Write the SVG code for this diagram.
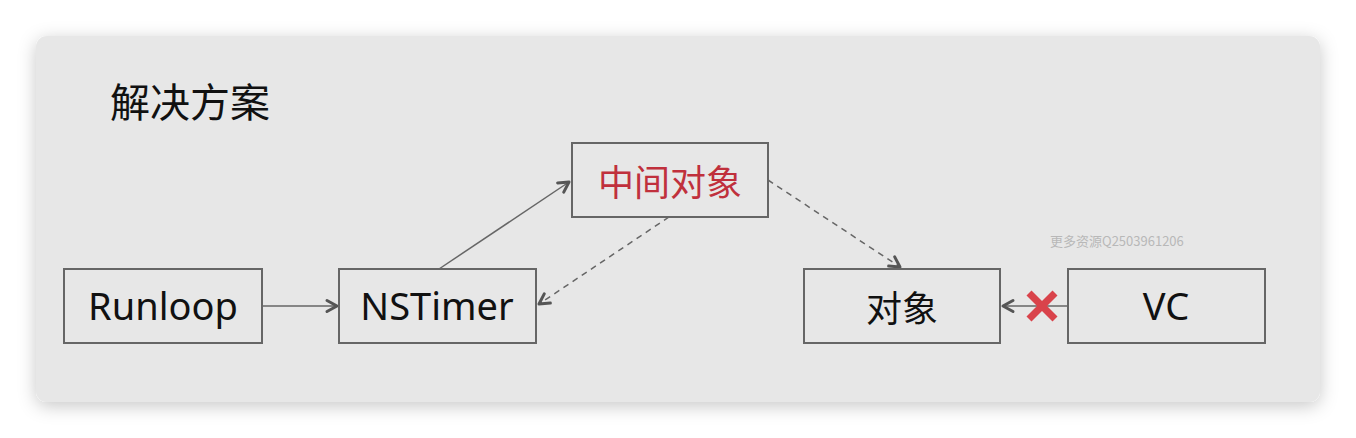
<svg xmlns="http://www.w3.org/2000/svg" width="1356" height="438" viewBox="0 0 1356 438">
  <style>
    .box { fill: none; stroke: #666; stroke-width: 2; }
    .lbl { font-family: "Noto Sans", "Open Sans", "Noto Sans CJK SC", sans-serif; font-size: 38px; fill: #111; text-anchor: middle; }
    .cjk { font-family: "Noto Sans CJK SC", sans-serif; font-size: 36px; fill: #111; text-anchor: middle; }
    .conn { fill: none; stroke: #666; stroke-width: 1.5; }
    .dash { stroke-dasharray: 6 5; }
  </style>
  <defs>
    <filter id="shadow" x="-10%" y="-20%" width="120%" height="150%">
      <feDropShadow dx="0" dy="4" stdDeviation="9" flood-color="#000" flood-opacity="0.22"/>
    </filter>
    <marker id="arr" markerUnits="userSpaceOnUse" markerWidth="16" markerHeight="16" viewBox="0 0 16 16" refX="13" refY="8" orient="auto">
      <path d="M3,2.5 L13,8 L3,13.5" fill="none" stroke="#555" stroke-width="3" stroke-linecap="round" stroke-linejoin="round"/>
    </marker>
  </defs>
  <rect width="1356" height="438" fill="#ffffff"/>
  <rect x="36" y="36" width="1284" height="366" rx="11" fill="#e7e7e7" filter="url(#shadow)"/>
  <text x="110" y="117" font-family="Noto Sans CJK SC, sans-serif" font-size="40" fill="#111">解决方案</text>
  <g id="connectors">
    <line class="conn" x1="262" y1="306" x2="337" y2="306" marker-end="url(#arr)"/>
    <line class="conn" x1="439" y1="269" x2="569" y2="182" marker-end="url(#arr)"/>
    <line class="conn dash" x1="669" y1="217" x2="539" y2="304" marker-end="url(#arr)"/>
    <line class="conn dash" x1="768" y1="180" x2="900" y2="267" marker-end="url(#arr)"/>
    <line class="conn" x1="1068" y1="306" x2="1003" y2="306" marker-end="url(#arr)"/>
    <g id="cross" stroke="#d9434b" stroke-width="7" stroke-linecap="butt">
      <line x1="1029" y1="293" x2="1055" y2="319"/>
      <line x1="1055" y1="293" x2="1029" y2="319"/>
    </g>
  </g>
  <g id="runloop">
    <rect class="box" x="64" y="269" width="198" height="74"/>
    <text class="lbl" x="163" y="320">Runloop</text>
  </g>
  <g id="nstimer">
    <rect class="box" x="339" y="269" width="197" height="74"/>
    <text class="lbl" x="437" y="320">NSTimer</text>
  </g>
  <g id="middle">
    <rect class="box" x="572" y="143" width="196" height="74"/>
    <text class="cjk" x="670" y="196" style="fill:#c0303c">中间对象</text>
  </g>
  <g id="object">
    <rect class="box" x="804" y="269" width="196" height="74"/>
    <text class="cjk" x="902" y="322">对象</text>
  </g>
  <g id="vc">
    <rect class="box" x="1068" y="269" width="197" height="74"/>
    <text class="lbl" x="1166" y="320">VC</text>
  </g>
  <text x="1050" y="246" font-family="Noto Sans CJK SC, sans-serif" font-size="13" fill="#b8b8b8">更多资源Q2503961206</text>
</svg>
